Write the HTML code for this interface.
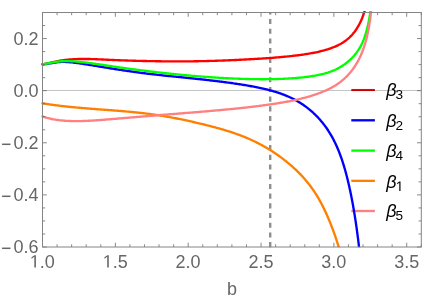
<!DOCTYPE html>
<html><head><meta charset="utf-8"><title>plot</title>
<style>html,body{margin:0;padding:0;background:#fff;}svg{display:block;will-change:transform;}text{font-family:"Liberation Sans",sans-serif;}</style></head><body>
<svg width="436" height="307" viewBox="0 0 436 307">
<rect width="436" height="307" fill="#ffffff"/>
<defs><clipPath id="c"><rect x="41.0" y="11.0" width="380.3" height="236.3"/></clipPath></defs>
<line x1="351.3" y1="90.00" x2="374.9" y2="90.00" stroke="#ff0000" stroke-width="2.10"/>
<line x1="351.3" y1="120.30" x2="374.9" y2="120.30" stroke="#0000ff" stroke-width="2.35"/>
<line x1="351.3" y1="150.60" x2="374.9" y2="150.60" stroke="#00ff00" stroke-width="2.35"/>
<line x1="351.3" y1="180.85" x2="374.9" y2="180.85" stroke="#ff8000" stroke-width="2.35"/>
<line x1="351.3" y1="211.00" x2="374.9" y2="211.00" stroke="#ff8080" stroke-width="2.35"/>
<line x1="42.5" y1="90.5" x2="421.3" y2="90.5" stroke="#000000" stroke-opacity="0.23" stroke-width="1"/>
<line x1="270.2" y1="247.2" x2="270.2" y2="12.5" stroke="#8e8e8e" stroke-width="2.4" stroke-dasharray="5.1 4.6"/>
<g clip-path="url(#c)" fill="none" stroke-width="2.35" stroke-linejoin="round" stroke-linecap="round">
<path d="M42.50,64.30 L43.68,64.09 L44.86,63.86 L46.03,63.62 L47.21,63.37 L48.38,63.11 L49.55,62.85 L50.72,62.59 L51.89,62.32 L53.06,62.06 L54.23,61.80 L55.40,61.55 L56.58,61.31 L57.75,61.08 L58.93,60.87 L60.12,60.67 L61.30,60.48 L62.49,60.30 L63.67,60.14 L64.86,59.99 L66.06,59.85 L67.25,59.72 L68.44,59.61 L69.64,59.50 L70.83,59.41 L72.03,59.32 L73.22,59.25 L74.42,59.19 L75.62,59.13 L76.82,59.08 L78.02,59.04 L79.22,59.01 L80.41,58.99 L81.61,58.97 L82.81,58.96 L84.01,58.96 L85.21,58.96 L86.41,58.97 L87.61,58.99 L88.81,59.01 L90.01,59.03 L91.21,59.06 L92.41,59.10 L93.60,59.14 L94.80,59.18 L96.00,59.22 L97.20,59.27 L98.40,59.32 L99.60,59.37 L100.79,59.43 L101.99,59.48 L103.19,59.54 L104.39,59.59 L105.59,59.65 L106.78,59.71 L107.98,59.77 L109.18,59.82 L110.38,59.88 L111.58,59.93 L112.77,59.98 L113.97,60.03 L115.17,60.08 L116.37,60.13 L117.57,60.18 L118.76,60.23 L119.96,60.27 L121.16,60.32 L122.36,60.36 L123.56,60.40 L124.76,60.45 L125.96,60.49 L127.15,60.53 L128.35,60.56 L129.55,60.60 L130.75,60.64 L131.95,60.68 L133.15,60.71 L134.35,60.75 L135.54,60.78 L136.74,60.81 L137.94,60.84 L139.14,60.87 L140.34,60.90 L141.54,60.93 L142.74,60.96 L143.94,60.99 L145.14,61.01 L146.33,61.04 L147.53,61.07 L148.73,61.09 L149.93,61.11 L151.13,61.13 L152.33,61.16 L153.53,61.18 L154.73,61.20 L155.93,61.22 L157.13,61.23 L158.33,61.25 L159.52,61.27 L160.72,61.28 L161.92,61.30 L163.12,61.31 L164.32,61.32 L165.52,61.33 L166.72,61.34 L167.92,61.35 L169.12,61.36 L170.32,61.37 L171.52,61.38 L172.72,61.38 L173.91,61.39 L175.11,61.39 L176.31,61.39 L177.51,61.39 L178.71,61.39 L179.91,61.39 L181.11,61.39 L182.31,61.38 L183.51,61.38 L184.71,61.37 L185.91,61.37 L187.11,61.36 L188.31,61.35 L189.50,61.34 L190.70,61.32 L191.90,61.31 L193.10,61.30 L194.30,61.28 L195.50,61.26 L196.70,61.24 L197.90,61.22 L199.10,61.20 L200.30,61.18 L201.50,61.16 L202.69,61.13 L203.89,61.10 L205.09,61.08 L206.29,61.05 L207.49,61.02 L208.69,60.99 L209.89,60.95 L211.09,60.92 L212.29,60.89 L213.48,60.85 L214.68,60.81 L215.88,60.78 L217.08,60.74 L218.28,60.70 L219.48,60.65 L220.68,60.61 L221.87,60.57 L223.07,60.52 L224.27,60.48 L225.47,60.43 L226.67,60.38 L227.87,60.33 L229.06,60.28 L230.26,60.23 L231.46,60.18 L232.66,60.13 L233.86,60.07 L235.05,60.02 L236.25,59.96 L237.45,59.90 L238.65,59.84 L239.85,59.78 L241.04,59.72 L242.24,59.66 L243.44,59.60 L244.64,59.54 L245.83,59.47 L247.03,59.41 L248.23,59.34 L249.43,59.28 L250.62,59.21 L251.82,59.14 L253.02,59.07 L254.21,59.00 L255.41,58.93 L256.61,58.86 L257.81,58.79 L259.00,58.71 L260.20,58.64 L261.40,58.56 L262.59,58.48 L263.79,58.40 L264.99,58.32 L266.18,58.24 L267.38,58.15 L268.58,58.07 L269.77,57.98 L270.97,57.89 L272.16,57.80 L273.36,57.71 L274.55,57.62 L275.75,57.52 L276.95,57.42 L278.14,57.32 L279.34,57.22 L280.53,57.12 L281.72,57.01 L282.92,56.90 L284.11,56.79 L285.31,56.67 L286.50,56.56 L287.69,56.44 L288.89,56.32 L290.08,56.19 L291.27,56.06 L292.46,55.93 L293.65,55.79 L294.85,55.65 L296.04,55.51 L297.23,55.36 L298.42,55.21 L299.61,55.06 L300.79,54.90 L301.98,54.73 L303.17,54.56 L304.36,54.39 L305.54,54.21 L306.73,54.02 L307.91,53.83 L309.09,53.63 L310.27,53.43 L311.45,53.21 L312.63,53.00 L313.81,52.77 L314.99,52.53 L316.16,52.29 L317.33,52.04 L318.50,51.78 L319.67,51.51 L320.84,51.23 L322.00,50.94 L323.16,50.63 L324.32,50.32 L325.47,49.99 L326.62,49.65 L327.77,49.29 L328.91,48.92 L330.04,48.54 L331.17,48.14 L332.30,47.72 L333.41,47.28 L334.52,46.83 L335.62,46.35 L336.72,45.85 L337.80,45.34 L338.87,44.80 L339.93,44.24 L340.98,43.65 L342.01,43.04 L343.03,42.41 L344.03,41.75 L345.02,41.07 L345.99,40.36 L346.94,39.63 L347.86,38.87 L348.77,38.09 L349.66,37.28 L350.52,36.44 L351.36,35.59 L352.17,34.70 L352.95,33.80 L353.72,32.87 L354.46,31.93 L355.17,30.97 L355.86,29.99 L356.53,28.99 L357.17,27.98 L357.80,26.95 L358.40,25.92 L358.98,24.87 L359.54,23.81 L360.08,22.73 L360.60,21.65 L361.10,20.56 L361.58,19.47 L362.04,18.36 L362.49,17.25 L362.92,16.13 L363.33,15.00 L363.73,13.87 L364.11,12.73 L364.48,11.59 L364.83,10.45 L365.17,9.30 L365.50,8.14 L365.81,6.98 L366.12,5.82 L366.41,4.66" stroke="#ff0000"/>
<path d="M42.50,64.30 L43.69,64.23 L44.89,64.12 L46.08,63.99 L47.26,63.82 L48.45,63.64 L49.63,63.45 L50.81,63.25 L51.98,63.04 L53.16,62.84 L54.35,62.64 L55.53,62.46 L56.72,62.31 L57.91,62.17 L59.10,62.07 L60.29,61.99 L61.49,61.94 L62.68,61.92 L63.88,61.92 L65.08,61.94 L66.27,61.98 L67.47,62.04 L68.66,62.12 L69.86,62.21 L71.05,62.32 L72.24,62.44 L73.43,62.58 L74.62,62.72 L75.80,62.87 L76.99,63.03 L78.18,63.20 L79.36,63.37 L80.55,63.54 L81.73,63.71 L82.91,63.89 L84.10,64.07 L85.28,64.25 L86.46,64.43 L87.65,64.62 L88.83,64.80 L90.01,64.99 L91.19,65.18 L92.37,65.37 L93.56,65.56 L94.74,65.75 L95.92,65.95 L97.10,66.14 L98.28,66.34 L99.46,66.53 L100.64,66.73 L101.82,66.92 L103.00,67.12 L104.18,67.31 L105.37,67.51 L106.55,67.70 L107.73,67.90 L108.91,68.09 L110.09,68.28 L111.27,68.47 L112.45,68.66 L113.64,68.85 L114.82,69.03 L116.00,69.22 L117.18,69.40 L118.37,69.59 L119.55,69.77 L120.73,69.95 L121.92,70.13 L123.10,70.31 L124.28,70.48 L125.47,70.66 L126.65,70.83 L127.84,71.01 L129.02,71.18 L130.21,71.35 L131.39,71.52 L132.58,71.68 L133.76,71.85 L134.95,72.01 L136.13,72.17 L137.32,72.34 L138.51,72.49 L139.69,72.65 L140.88,72.81 L142.07,72.96 L143.25,73.11 L144.44,73.27 L145.63,73.41 L146.82,73.56 L148.00,73.71 L149.19,73.85 L150.38,73.99 L151.57,74.13 L152.76,74.27 L153.95,74.41 L155.14,74.54 L156.33,74.68 L157.52,74.81 L158.71,74.94 L159.90,75.07 L161.08,75.20 L162.28,75.33 L163.47,75.46 L164.66,75.59 L165.85,75.71 L167.04,75.83 L168.23,75.96 L169.42,76.08 L170.61,76.20 L171.80,76.32 L172.99,76.45 L174.18,76.57 L175.37,76.69 L176.56,76.81 L177.75,76.93 L178.94,77.04 L180.14,77.16 L181.33,77.28 L182.52,77.40 L183.71,77.52 L184.90,77.64 L186.09,77.76 L187.28,77.88 L188.47,78.00 L189.66,78.13 L190.85,78.25 L192.04,78.37 L193.23,78.49 L194.42,78.62 L195.62,78.74 L196.81,78.87 L198.00,79.00 L199.19,79.13 L200.38,79.25 L201.57,79.38 L202.76,79.51 L203.94,79.65 L205.13,79.78 L206.32,79.91 L207.51,80.05 L208.70,80.18 L209.89,80.32 L211.08,80.46 L212.27,80.60 L213.46,80.74 L214.65,80.88 L215.83,81.02 L217.02,81.17 L218.21,81.31 L219.40,81.46 L220.59,81.61 L221.77,81.76 L222.96,81.91 L224.15,82.07 L225.33,82.22 L226.52,82.38 L227.71,82.54 L228.89,82.70 L230.08,82.87 L231.26,83.03 L232.45,83.20 L233.63,83.37 L234.82,83.54 L236.00,83.72 L237.19,83.89 L238.37,84.07 L239.55,84.26 L240.74,84.44 L241.92,84.63 L243.10,84.82 L244.28,85.01 L245.46,85.21 L246.64,85.41 L247.82,85.61 L249.00,85.81 L250.18,86.02 L251.36,86.24 L252.53,86.45 L253.71,86.67 L254.89,86.90 L256.06,87.13 L257.23,87.36 L258.41,87.60 L259.58,87.85 L260.75,88.10 L261.92,88.36 L263.09,88.62 L264.25,88.89 L265.42,89.16 L266.58,89.44 L267.74,89.73 L268.90,90.03 L270.06,90.33 L271.21,90.65 L272.37,90.97 L273.52,91.30 L274.67,91.64 L275.81,91.98 L276.95,92.34 L278.09,92.71 L279.23,93.09 L280.36,93.47 L281.49,93.87 L282.61,94.28 L283.73,94.71 L284.85,95.14 L285.96,95.59 L287.06,96.05 L288.16,96.52 L289.26,97.01 L290.35,97.51 L291.43,98.02 L292.50,98.55 L293.57,99.09 L294.63,99.65 L295.68,100.22 L296.73,100.80 L297.76,101.40 L298.79,102.01 L299.82,102.63 L300.83,103.27 L301.83,103.92 L302.83,104.58 L303.81,105.26 L304.79,105.95 L305.76,106.66 L306.72,107.37 L307.67,108.10 L308.61,108.84 L309.53,109.60 L310.45,110.37 L311.36,111.15 L312.26,111.94 L313.15,112.74 L314.02,113.56 L314.89,114.38 L315.74,115.22 L316.59,116.07 L317.42,116.93 L318.24,117.80 L319.05,118.68 L319.85,119.57 L320.64,120.48 L321.41,121.39 L322.17,122.31 L322.93,123.24 L323.67,124.18 L324.40,125.13 L325.11,126.09 L325.81,127.06 L326.51,128.04 L327.19,129.02 L327.85,130.01 L328.51,131.02 L329.15,132.03 L329.78,133.04 L330.40,134.07 L331.01,135.10 L331.61,136.14 L332.19,137.18 L332.76,138.23 L333.32,139.29 L333.87,140.35 L334.41,141.42 L334.94,142.49 L335.46,143.57 L335.97,144.66 L336.47,145.75 L336.95,146.84 L337.43,147.94 L337.90,149.04 L338.36,150.14 L338.81,151.25 L339.25,152.37 L339.68,153.48 L340.10,154.60 L340.52,155.72 L340.92,156.85 L341.32,157.98 L341.71,159.11 L342.10,160.24 L342.47,161.38 L342.84,162.52 L343.20,163.66 L343.56,164.80 L343.91,165.95 L344.25,167.10 L344.59,168.24 L344.92,169.39 L345.24,170.55 L345.56,171.70 L345.88,172.85 L346.19,174.01 L346.49,175.17 L346.79,176.33 L347.09,177.49 L347.38,178.65 L347.67,179.81 L347.95,180.97 L348.23,182.14 L348.50,183.30 L348.77,184.47 L349.04,185.63 L349.30,186.80 L349.56,187.97 L349.82,189.14 L350.07,190.31 L350.32,191.48 L350.56,192.65 L350.80,193.82 L351.04,195.00 L351.28,196.17 L351.51,197.35 L351.74,198.52 L351.96,199.70 L352.19,200.87 L352.41,202.05 L352.62,203.23 L352.84,204.40 L353.05,205.58 L353.26,206.76 L353.46,207.94 L353.67,209.12 L353.87,210.30 L354.07,211.48 L354.26,212.66 L354.46,213.84 L354.65,215.02 L354.84,216.20 L355.02,217.39 L355.21,218.57 L355.39,219.75 L355.57,220.94 L355.75,222.12 L355.92,223.30 L356.10,224.49 L356.27,225.67 L356.44,226.86 L356.61,228.04 L356.77,229.23 L356.94,230.41 L357.10,231.60 L357.26,232.79 L357.42,233.97 L357.57,235.16 L357.73,236.35 L357.88,237.53 L358.03,238.72 L358.18,239.91 L358.33,241.10 L358.47,242.28 L358.62,243.47 L358.76,244.66 L358.90,245.85 L359.04,247.04 L359.18,248.23 L359.31,249.42 L359.45,250.61 L359.58,251.79 L359.71,252.98 L359.84,254.17" stroke="#0000ff"/>
<path d="M42.50,64.30 L43.68,64.12 L44.87,63.93 L46.04,63.72 L47.22,63.50 L48.40,63.28 L49.57,63.05 L50.75,62.82 L51.92,62.59 L53.10,62.37 L54.28,62.16 L55.46,61.96 L56.64,61.78 L57.83,61.63 L59.02,61.49 L60.21,61.38 L61.41,61.29 L62.60,61.22 L63.80,61.17 L64.99,61.13 L66.19,61.12 L67.39,61.12 L68.58,61.14 L69.78,61.17 L70.98,61.22 L72.17,61.28 L73.37,61.35 L74.56,61.44 L75.76,61.53 L76.95,61.63 L78.14,61.74 L79.33,61.85 L80.52,61.97 L81.72,62.10 L82.91,62.23 L84.10,62.36 L85.28,62.50 L86.47,62.64 L87.66,62.79 L88.85,62.94 L90.04,63.10 L91.22,63.25 L92.41,63.41 L93.60,63.58 L94.78,63.75 L95.97,63.91 L97.15,64.08 L98.34,64.26 L99.52,64.43 L100.70,64.61 L101.89,64.78 L103.07,64.96 L104.26,65.14 L105.44,65.32 L106.62,65.49 L107.81,65.67 L108.99,65.85 L110.18,66.02 L111.36,66.20 L112.55,66.37 L113.73,66.55 L114.92,66.72 L116.10,66.89 L117.28,67.06 L118.47,67.23 L119.66,67.40 L120.84,67.57 L122.03,67.74 L123.21,67.91 L124.40,68.07 L125.58,68.24 L126.77,68.40 L127.95,68.56 L129.14,68.73 L130.33,68.89 L131.51,69.05 L132.70,69.21 L133.89,69.37 L135.07,69.52 L136.26,69.68 L137.45,69.84 L138.63,69.99 L139.82,70.14 L141.01,70.30 L142.20,70.45 L143.39,70.60 L144.57,70.75 L145.76,70.90 L146.95,71.04 L148.14,71.19 L149.33,71.34 L150.51,71.48 L151.70,71.62 L152.89,71.76 L154.08,71.90 L155.27,72.04 L156.46,72.18 L157.65,72.32 L158.84,72.46 L160.03,72.59 L161.22,72.72 L162.41,72.86 L163.60,72.99 L164.79,73.12 L165.98,73.25 L167.17,73.38 L168.36,73.50 L169.55,73.63 L170.74,73.75 L171.93,73.88 L173.12,74.00 L174.31,74.12 L175.50,74.24 L176.69,74.36 L177.89,74.48 L179.08,74.59 L180.27,74.71 L181.46,74.82 L182.65,74.94 L183.85,75.05 L185.04,75.16 L186.23,75.27 L187.42,75.38 L188.61,75.48 L189.81,75.59 L191.00,75.69 L192.19,75.80 L193.39,75.90 L194.58,76.00 L195.77,76.10 L196.96,76.20 L198.16,76.30 L199.35,76.39 L200.54,76.49 L201.74,76.58 L202.93,76.67 L204.13,76.76 L205.32,76.85 L206.51,76.94 L207.71,77.02 L208.90,77.11 L210.10,77.19 L211.29,77.28 L212.49,77.36 L213.68,77.44 L214.87,77.51 L216.07,77.59 L217.26,77.67 L218.46,77.74 L219.65,77.81 L220.85,77.88 L222.04,77.95 L223.24,78.02 L224.44,78.08 L225.63,78.15 L226.83,78.21 L228.02,78.27 L229.22,78.33 L230.41,78.39 L231.61,78.44 L232.81,78.50 L234.00,78.55 L235.20,78.60 L236.39,78.65 L237.59,78.70 L238.79,78.74 L239.98,78.79 L241.18,78.83 L242.38,78.87 L243.57,78.90 L244.77,78.94 L245.97,78.97 L247.16,79.00 L248.36,79.03 L249.56,79.06 L250.75,79.09 L251.95,79.11 L253.15,79.13 L254.35,79.15 L255.54,79.16 L256.74,79.18 L257.94,79.19 L259.13,79.20 L260.33,79.21 L261.53,79.21 L262.73,79.21 L263.92,79.21 L265.12,79.21 L266.32,79.20 L267.51,79.19 L268.71,79.18 L269.91,79.17 L271.11,79.15 L272.30,79.13 L273.50,79.11 L274.70,79.08 L275.89,79.05 L277.09,79.02 L278.29,78.98 L279.48,78.94 L280.68,78.90 L281.88,78.86 L283.07,78.81 L284.27,78.75 L285.46,78.70 L286.66,78.64 L287.86,78.57 L289.05,78.50 L290.25,78.43 L291.44,78.35 L292.64,78.27 L293.83,78.18 L295.02,78.09 L296.22,78.00 L297.41,77.89 L298.60,77.79 L299.79,77.68 L300.99,77.56 L302.18,77.43 L303.37,77.30 L304.56,77.17 L305.74,77.03 L306.93,76.88 L308.12,76.72 L309.31,76.56 L310.49,76.38 L311.67,76.20 L312.86,76.01 L314.04,75.82 L315.22,75.61 L316.39,75.39 L317.57,75.16 L318.74,74.92 L319.91,74.67 L321.08,74.40 L322.24,74.12 L323.40,73.83 L324.56,73.53 L325.71,73.20 L326.86,72.86 L328.01,72.51 L329.14,72.13 L330.27,71.74 L331.40,71.33 L332.51,70.89 L333.62,70.44 L334.72,69.96 L335.80,69.46 L336.88,68.93 L337.95,68.39 L339.00,67.82 L340.04,67.23 L341.07,66.62 L342.09,65.98 L343.09,65.33 L344.08,64.65 L345.05,63.96 L346.01,63.24 L346.95,62.50 L347.88,61.75 L348.79,60.97 L349.69,60.18 L350.57,59.36 L351.43,58.53 L352.27,57.68 L353.09,56.81 L353.89,55.92 L354.67,55.01 L355.43,54.09 L356.17,53.14 L356.89,52.18 L357.58,51.21 L358.25,50.22 L358.90,49.21 L359.52,48.18 L360.12,47.15 L360.69,46.10 L361.24,45.04 L361.77,43.96 L362.28,42.88 L362.77,41.78 L363.23,40.68 L363.68,39.57 L364.10,38.45 L364.51,37.32 L364.90,36.19 L365.27,35.05 L365.63,33.91 L365.98,32.77 L366.31,31.62 L366.63,30.46 L366.94,29.30 L367.23,28.14 L367.51,26.98 L367.79,25.82 L368.05,24.65 L368.30,23.48 L368.55,22.31 L368.78,21.13 L369.01,19.96 L369.22,18.78 L369.43,17.60 L369.64,16.42 L369.83,15.24 L370.02,14.06 L370.20,12.87 L370.37,11.69 L370.54,10.50 L370.71,9.32 L370.86,8.13 L371.02,6.94 L371.16,5.75 L371.30,4.56" stroke="#00ff00"/>
<path d="M42.50,103.29 L43.68,103.48 L44.86,103.67 L46.05,103.86 L47.23,104.04 L48.41,104.22 L49.60,104.40 L50.78,104.57 L51.97,104.74 L53.15,104.90 L54.34,105.06 L55.53,105.22 L56.72,105.37 L57.90,105.52 L59.09,105.67 L60.28,105.81 L61.47,105.96 L62.66,106.09 L63.85,106.23 L65.04,106.36 L66.23,106.49 L67.42,106.62 L68.61,106.74 L69.80,106.87 L70.99,106.98 L72.18,107.10 L73.37,107.22 L74.57,107.33 L75.76,107.44 L76.95,107.55 L78.14,107.66 L79.34,107.76 L80.53,107.87 L81.72,107.97 L82.92,108.07 L84.11,108.17 L85.30,108.27 L86.50,108.37 L87.69,108.46 L88.88,108.56 L90.08,108.65 L91.27,108.75 L92.46,108.84 L93.66,108.93 L94.85,109.03 L96.04,109.12 L97.24,109.21 L98.43,109.30 L99.63,109.39 L100.82,109.48 L102.01,109.57 L103.21,109.66 L104.40,109.75 L105.60,109.84 L106.79,109.93 L107.98,110.02 L109.18,110.11 L110.37,110.20 L111.57,110.29 L112.76,110.38 L113.95,110.47 L115.15,110.57 L116.34,110.66 L117.53,110.76 L118.73,110.85 L119.92,110.95 L121.11,111.04 L122.31,111.14 L123.50,111.24 L124.69,111.35 L125.89,111.45 L127.08,111.55 L128.27,111.66 L129.46,111.77 L130.66,111.88 L131.85,111.99 L133.04,112.11 L134.23,112.22 L135.42,112.34 L136.61,112.46 L137.80,112.59 L139.00,112.72 L140.19,112.85 L141.38,112.98 L142.56,113.12 L143.75,113.26 L144.94,113.40 L146.13,113.55 L147.32,113.70 L148.51,113.85 L149.69,114.01 L150.88,114.17 L152.07,114.33 L153.25,114.50 L154.44,114.67 L155.62,114.84 L156.81,115.02 L157.99,115.20 L159.17,115.38 L160.36,115.57 L161.54,115.76 L162.72,115.95 L163.90,116.15 L165.08,116.35 L166.26,116.55 L167.44,116.75 L168.62,116.96 L169.80,117.17 L170.98,117.39 L172.15,117.61 L173.33,117.83 L174.51,118.05 L175.68,118.27 L176.86,118.50 L178.03,118.74 L179.21,118.97 L180.38,119.21 L181.55,119.45 L182.73,119.69 L183.90,119.93 L185.07,120.18 L186.24,120.43 L187.41,120.69 L188.58,120.94 L189.75,121.20 L190.92,121.46 L192.09,121.72 L193.25,121.99 L194.42,122.26 L195.59,122.53 L196.75,122.80 L197.92,123.07 L199.08,123.35 L200.25,123.63 L201.41,123.91 L202.58,124.19 L203.74,124.47 L204.90,124.76 L206.06,125.05 L207.22,125.34 L208.39,125.63 L209.55,125.93 L210.70,126.23 L211.86,126.53 L213.02,126.83 L214.18,127.14 L215.34,127.45 L216.49,127.76 L217.65,128.08 L218.80,128.40 L219.95,128.73 L221.10,129.06 L222.25,129.39 L223.40,129.72 L224.55,130.07 L225.70,130.41 L226.84,130.76 L227.98,131.12 L229.13,131.48 L230.27,131.84 L231.41,132.21 L232.54,132.59 L233.68,132.97 L234.81,133.36 L235.94,133.75 L237.07,134.15 L238.20,134.55 L239.32,134.97 L240.44,135.39 L241.56,135.81 L242.68,136.24 L243.79,136.68 L244.90,137.13 L246.01,137.59 L247.11,138.05 L248.21,138.52 L249.31,139.00 L250.40,139.49 L251.49,139.98 L252.58,140.49 L253.66,141.00 L254.74,141.52 L255.82,142.04 L256.89,142.58 L257.96,143.12 L259.02,143.67 L260.08,144.22 L261.14,144.79 L262.19,145.36 L263.24,145.94 L264.28,146.53 L265.32,147.12 L266.36,147.72 L267.39,148.33 L268.41,148.95 L269.43,149.57 L270.45,150.21 L271.46,150.85 L272.47,151.49 L273.47,152.15 L274.47,152.81 L275.47,153.47 L276.45,154.15 L277.44,154.83 L278.42,155.52 L279.39,156.22 L280.36,156.92 L281.32,157.63 L282.28,158.35 L283.23,159.08 L284.18,159.81 L285.12,160.55 L286.06,161.29 L286.99,162.05 L287.92,162.81 L288.84,163.57 L289.75,164.35 L290.66,165.12 L291.56,165.91 L292.46,166.70 L293.35,167.51 L294.23,168.31 L295.11,169.13 L295.98,169.95 L296.84,170.78 L297.70,171.62 L298.55,172.46 L299.39,173.31 L300.23,174.17 L301.05,175.04 L301.87,175.91 L302.68,176.79 L303.48,177.68 L304.28,178.58 L305.06,179.48 L305.84,180.39 L306.61,181.31 L307.37,182.24 L308.12,183.17 L308.86,184.11 L309.59,185.06 L310.31,186.01 L311.02,186.97 L311.73,187.94 L312.42,188.92 L313.11,189.90 L313.79,190.89 L314.45,191.88 L315.11,192.88 L315.76,193.89 L316.40,194.90 L317.03,195.92 L317.65,196.94 L318.26,197.97 L318.86,199.01 L319.46,200.05 L320.04,201.09 L320.62,202.14 L321.19,203.20 L321.75,204.25 L322.30,205.32 L322.84,206.38 L323.38,207.45 L323.90,208.53 L324.43,209.61 L324.94,210.69 L325.45,211.77 L325.95,212.86 L326.45,213.95 L326.94,215.04 L327.42,216.14 L327.90,217.24 L328.37,218.34 L328.83,219.44 L329.29,220.54 L329.75,221.65 L330.20,222.76 L330.64,223.87 L331.08,224.99 L331.51,226.10 L331.94,227.22 L332.37,228.34 L332.79,229.46 L333.20,230.59 L333.61,231.71 L334.02,232.84 L334.42,233.96 L334.82,235.09 L335.21,236.22 L335.60,237.36 L335.98,238.49 L336.37,239.63 L336.74,240.76 L337.12,241.90 L337.48,243.04 L337.85,244.18 L338.21,245.32 L338.57,246.46 L338.92,247.61 L339.27,248.75 L339.62,249.90 L339.97,251.04 L340.31,252.19 L340.64,253.34 L340.98,254.49" stroke="#ff8000"/>
<path d="M42.50,116.40 L43.63,116.80 L44.76,117.18 L45.91,117.54 L47.06,117.88 L48.21,118.19 L49.37,118.48 L50.54,118.75 L51.71,119.00 L52.89,119.24 L54.06,119.45 L55.25,119.65 L56.43,119.84 L57.61,120.01 L58.80,120.16 L59.99,120.30 L61.18,120.43 L62.37,120.54 L63.57,120.64 L64.76,120.73 L65.96,120.81 L67.15,120.88 L68.35,120.94 L69.55,120.99 L70.74,121.03 L71.94,121.06 L73.14,121.09 L74.34,121.10 L75.53,121.11 L76.73,121.11 L77.93,121.11 L79.13,121.10 L80.32,121.08 L81.52,121.05 L82.72,121.02 L83.92,120.98 L85.11,120.94 L86.31,120.89 L87.51,120.84 L88.70,120.78 L89.90,120.72 L91.09,120.66 L92.29,120.59 L93.49,120.51 L94.68,120.44 L95.88,120.36 L97.07,120.27 L98.27,120.19 L99.46,120.10 L100.65,120.01 L101.85,119.92 L103.04,119.82 L104.24,119.73 L105.43,119.63 L106.62,119.53 L107.82,119.43 L109.01,119.33 L110.20,119.23 L111.40,119.14 L112.59,119.04 L113.78,118.94 L114.98,118.83 L116.17,118.73 L117.37,118.63 L118.56,118.53 L119.75,118.43 L120.95,118.33 L122.14,118.23 L123.33,118.13 L124.53,118.02 L125.72,117.92 L126.91,117.82 L128.11,117.72 L129.30,117.62 L130.49,117.52 L131.69,117.41 L132.88,117.31 L134.07,117.21 L135.27,117.11 L136.46,117.01 L137.65,116.91 L138.85,116.81 L140.04,116.71 L141.23,116.60 L142.43,116.50 L143.62,116.40 L144.81,116.31 L146.01,116.21 L147.20,116.11 L148.40,116.01 L149.59,115.91 L150.78,115.81 L151.98,115.71 L153.17,115.62 L154.36,115.52 L155.56,115.42 L156.75,115.33 L157.95,115.23 L159.14,115.13 L160.33,115.04 L161.53,114.94 L162.72,114.85 L163.91,114.75 L165.11,114.66 L166.30,114.56 L167.50,114.47 L168.69,114.37 L169.88,114.28 L171.08,114.18 L172.27,114.09 L173.47,113.99 L174.66,113.90 L175.85,113.80 L177.05,113.71 L178.24,113.61 L179.44,113.52 L180.63,113.42 L181.82,113.33 L183.02,113.23 L184.21,113.14 L185.41,113.04 L186.60,112.94 L187.79,112.85 L188.99,112.75 L190.18,112.65 L191.37,112.56 L192.57,112.46 L193.76,112.36 L194.96,112.26 L196.15,112.17 L197.34,112.07 L198.54,111.97 L199.73,111.87 L200.92,111.77 L202.12,111.67 L203.31,111.57 L204.50,111.46 L205.70,111.36 L206.89,111.26 L208.08,111.16 L209.28,111.05 L210.47,110.95 L211.66,110.85 L212.86,110.74 L214.05,110.63 L215.24,110.53 L216.44,110.42 L217.63,110.31 L218.82,110.21 L220.01,110.10 L221.21,109.99 L222.40,109.88 L223.59,109.76 L224.78,109.65 L225.98,109.54 L227.17,109.43 L228.36,109.31 L229.55,109.19 L230.74,109.08 L231.94,108.96 L233.13,108.84 L234.32,108.72 L235.51,108.60 L236.70,108.48 L237.89,108.36 L239.09,108.23 L240.28,108.11 L241.47,107.98 L242.66,107.85 L243.85,107.72 L245.04,107.59 L246.23,107.46 L247.42,107.33 L248.61,107.19 L249.80,107.05 L250.99,106.92 L252.18,106.78 L253.37,106.63 L254.56,106.49 L255.75,106.35 L256.94,106.20 L258.12,106.05 L259.31,105.90 L260.50,105.75 L261.69,105.59 L262.88,105.43 L264.06,105.27 L265.25,105.11 L266.44,104.95 L267.62,104.78 L268.81,104.61 L269.99,104.44 L271.18,104.27 L272.36,104.09 L273.55,103.91 L274.73,103.73 L275.91,103.55 L277.10,103.36 L278.28,103.17 L279.46,102.97 L280.64,102.78 L281.82,102.57 L283.00,102.37 L284.18,102.16 L285.36,101.95 L286.54,101.73 L287.72,101.51 L288.89,101.29 L290.07,101.06 L291.24,100.82 L292.42,100.59 L293.59,100.34 L294.76,100.09 L295.93,99.84 L297.10,99.58 L298.27,99.31 L299.44,99.04 L300.60,98.77 L301.76,98.48 L302.93,98.19 L304.09,97.89 L305.24,97.59 L306.40,97.28 L307.56,96.96 L308.71,96.63 L309.86,96.29 L311.00,95.95 L312.15,95.59 L313.29,95.23 L314.43,94.86 L315.56,94.48 L316.69,94.08 L317.82,93.68 L318.95,93.27 L320.07,92.85 L321.18,92.41 L322.30,91.97 L323.40,91.51 L324.50,91.04 L325.60,90.56 L326.69,90.06 L327.77,89.55 L328.85,89.02 L329.92,88.48 L330.98,87.93 L332.03,87.36 L333.08,86.77 L334.11,86.17 L335.14,85.55 L336.15,84.91 L337.16,84.26 L338.15,83.59 L339.12,82.89 L340.09,82.18 L341.04,81.45 L341.97,80.70 L342.89,79.94 L343.79,79.15 L344.68,78.35 L345.55,77.52 L346.41,76.69 L347.25,75.83 L348.07,74.96 L348.88,74.07 L349.67,73.17 L350.44,72.26 L351.19,71.33 L351.93,70.39 L352.66,69.43 L353.36,68.46 L354.05,67.48 L354.72,66.49 L355.38,65.49 L356.01,64.47 L356.63,63.45 L357.24,62.42 L357.82,61.37 L358.39,60.32 L358.94,59.25 L359.48,58.18 L360.00,57.10 L360.50,56.02 L360.99,54.92 L361.47,53.82 L361.92,52.72 L362.37,51.60 L362.80,50.49 L363.21,49.36 L363.61,48.23 L364.00,47.10 L364.37,45.96 L364.73,44.82 L365.08,43.68 L365.42,42.53 L365.75,41.37 L366.06,40.22 L366.36,39.06 L366.66,37.90 L366.94,36.73 L367.21,35.57 L367.47,34.40 L367.73,33.23 L367.97,32.06 L368.21,30.88 L368.43,29.71 L368.65,28.53 L368.86,27.35 L369.07,26.17 L369.26,24.99 L369.45,23.81 L369.64,22.62 L369.81,21.44 L369.98,20.25 L370.15,19.07 L370.31,17.88 L370.46,16.69 L370.61,15.50 L370.76,14.31 L370.89,13.12 L371.03,11.93 L371.16,10.74 L371.28,9.55 L371.41,8.36 L371.52,7.17 L371.64,5.98 L371.75,4.78" stroke="#ff8080"/>
</g>
<path d="M42.50,247.0 v-4.3 M42.50,12.5 v4.3 M57.07,247.0 v-2.7 M57.07,12.5 v2.7 M71.64,247.0 v-2.7 M71.64,12.5 v2.7 M86.21,247.0 v-2.7 M86.21,12.5 v2.7 M100.78,247.0 v-2.7 M100.78,12.5 v2.7 M115.35,247.0 v-4.3 M115.35,12.5 v4.3 M129.92,247.0 v-2.7 M129.92,12.5 v2.7 M144.48,247.0 v-2.7 M144.48,12.5 v2.7 M159.05,247.0 v-2.7 M159.05,12.5 v2.7 M173.62,247.0 v-2.7 M173.62,12.5 v2.7 M188.19,247.0 v-4.3 M188.19,12.5 v4.3 M202.76,247.0 v-2.7 M202.76,12.5 v2.7 M217.33,247.0 v-2.7 M217.33,12.5 v2.7 M231.90,247.0 v-2.7 M231.90,12.5 v2.7 M246.47,247.0 v-2.7 M246.47,12.5 v2.7 M261.04,247.0 v-4.3 M261.04,12.5 v4.3 M275.61,247.0 v-2.7 M275.61,12.5 v2.7 M290.18,247.0 v-2.7 M290.18,12.5 v2.7 M304.75,247.0 v-2.7 M304.75,12.5 v2.7 M319.32,247.0 v-2.7 M319.32,12.5 v2.7 M333.88,247.0 v-4.3 M333.88,12.5 v4.3 M348.45,247.0 v-2.7 M348.45,12.5 v2.7 M363.02,247.0 v-2.7 M363.02,12.5 v2.7 M377.59,247.0 v-2.7 M377.59,12.5 v2.7 M392.16,247.0 v-2.7 M392.16,12.5 v2.7 M406.73,247.0 v-4.3 M406.73,12.5 v4.3 M421.30,247.0 v-2.7 M421.30,12.5 v2.7 M42.5,247.00 h4.3 M421.3,247.00 h-4.3 M42.5,233.97 h2.7 M421.3,233.97 h-2.7 M42.5,220.94 h2.7 M421.3,220.94 h-2.7 M42.5,207.92 h2.7 M421.3,207.92 h-2.7 M42.5,194.89 h4.3 M421.3,194.89 h-4.3 M42.5,181.86 h2.7 M421.3,181.86 h-2.7 M42.5,168.83 h2.7 M421.3,168.83 h-2.7 M42.5,155.81 h2.7 M421.3,155.81 h-2.7 M42.5,142.78 h4.3 M421.3,142.78 h-4.3 M42.5,129.75 h2.7 M421.3,129.75 h-2.7 M42.5,116.72 h2.7 M421.3,116.72 h-2.7 M42.5,103.69 h2.7 M421.3,103.69 h-2.7 M42.5,90.67 h4.3 M421.3,90.67 h-4.3 M42.5,77.64 h2.7 M421.3,77.64 h-2.7 M42.5,64.61 h2.7 M421.3,64.61 h-2.7 M42.5,51.58 h2.7 M421.3,51.58 h-2.7 M42.5,38.56 h4.3 M421.3,38.56 h-4.3 M42.5,25.53 h2.7 M421.3,25.53 h-2.7 M42.5,12.50 h2.7 M421.3,12.50 h-2.7" stroke="#606060" stroke-width="0.75" fill="none"/>
<rect x="42.5" y="12.5" width="378.8" height="234.5" fill="none" stroke="#848484" stroke-width="1"/>
<text x="386.2" y="96.2" font-size="18" font-style="italic" fill="#000">β<tspan font-style="normal" font-size="13.6" dy="3.0" dx="-0.9">3</tspan></text>
<text x="386.2" y="126.9" font-size="18" font-style="italic" fill="#000">β<tspan font-style="normal" font-size="13.6" dy="3.0" dx="-0.9">2</tspan></text>
<text x="386.2" y="157.2" font-size="18" font-style="italic" fill="#000">β<tspan font-style="normal" font-size="13.6" dy="3.0" dx="-0.9">4</tspan></text>
<text x="386.2" y="187.9" font-size="18" font-style="italic" fill="#000">β</text>
<path d="M515 0V1237L197 1010V1180L530 1409H696V0Z" fill="#000" transform="translate(395.88,190.95) scale(0.00664,-0.00664)"/>
<text x="386.2" y="217.2" font-size="18" font-style="italic" fill="#000">β<tspan font-style="normal" font-size="13.6" dy="3.0" dx="-0.9">5</tspan></text>
<text x="38.6" y="45.1" font-size="18" text-anchor="end" fill="#666666">0.2</text>
<text x="38.6" y="97.1" font-size="18" text-anchor="end" fill="#666666">0.0</text>
<text x="38.6" y="149.1" font-size="18" text-anchor="end" fill="#666666">0.2</text>
<line x1="2.1" y1="144.30" x2="10.5" y2="144.30" stroke="#666666" stroke-width="1.5"/>
<text x="38.6" y="201.1" font-size="18" text-anchor="end" fill="#666666">0.4</text>
<line x1="2.1" y1="196.30" x2="10.5" y2="196.30" stroke="#666666" stroke-width="1.5"/>
<text x="38.6" y="253.1" font-size="18" text-anchor="end" fill="#666666">0.6</text>
<line x1="2.1" y1="248.30" x2="10.5" y2="248.30" stroke="#666666" stroke-width="1.5"/>
<path d="M515 0V1237L197 1010V1180L530 1409H696V0Z" fill="#666666" transform="translate(29.79,267.60) scale(0.00879,-0.00879)"/>
<text x="39.80" y="267.6" font-size="18" text-anchor="start" fill="#666666">.0</text>
<path d="M515 0V1237L197 1010V1180L530 1409H696V0Z" fill="#666666" transform="translate(102.67,267.60) scale(0.00879,-0.00879)"/>
<text x="112.69" y="267.6" font-size="18" text-anchor="start" fill="#666666">.5</text>
<text x="188.1" y="267.6" font-size="18" text-anchor="middle" fill="#666666">2.0</text>
<text x="261.0" y="267.6" font-size="18" text-anchor="middle" fill="#666666">2.5</text>
<text x="333.8" y="267.6" font-size="18" text-anchor="middle" fill="#666666">3.0</text>
<text x="406.7" y="267.6" font-size="18" text-anchor="middle" fill="#666666">3.5</text>
<text x="232" y="295.3" font-size="18" text-anchor="middle" fill="#666666">b</text>
</svg></body></html>
